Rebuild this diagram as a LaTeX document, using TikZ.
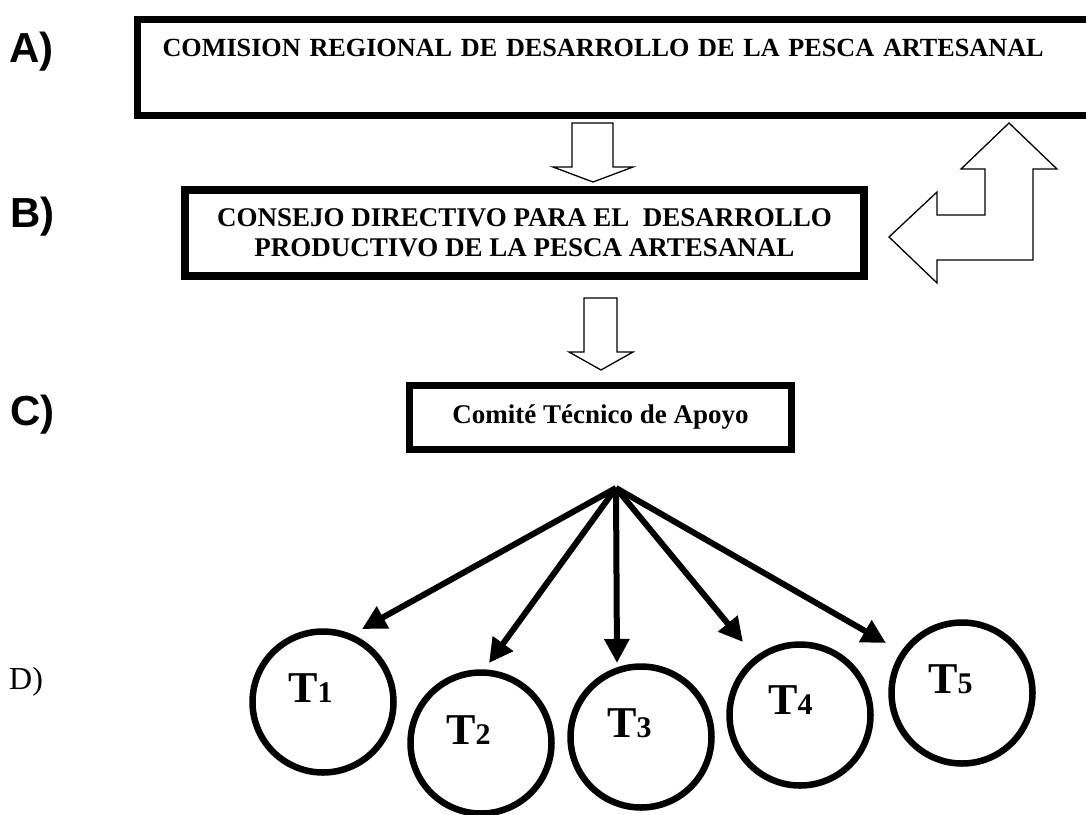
\documentclass[tikz,border=0pt]{standalone}
\usepackage{fontspec}
\setmainfont{Liberation Serif}
\setsansfont{Liberation Sans}
\usetikzlibrary{arrows.meta}

\tikzset{
  caja/.style={draw, line width=7pt, font=\bfseries\fontsize{27}{30}\selectfont, align=center, inner sep=0pt},
  tema/.style={circle, draw, line width=6.5pt, minimum size=141pt, inner sep=0pt},
  hueca/.style={draw, line width=1.3pt, fill=white, line join=miter},
  flecha/.style={line width=6pt, -{Triangle[length=24pt,width=24pt]}},
  letra/.style={font=\sffamily\bfseries\fontsize{42}{42}\selectfont, inner sep=0pt},
  tnombre/.style={font=\bfseries\fontsize{44}{44}\selectfont, inner sep=0pt}
}
\newcommand{\tnum}[2]{#1{\fontsize{30}{30}\selectfont #2}}

\begin{document}
\begin{tikzpicture}[x=1pt,y=-1pt]
  \useasboundingbox (0,0) rectangle (1086,814);
  \clip (0,0) rectangle (1086,814);

  \node[letra, anchor=base west] (la) at (9,62) {A)};
  \node[letra, anchor=base west] (lb) at (10,227) {B)};
  \node[letra, anchor=base west] (lc) at (10,425) {C)};
  \node[font=\fontsize{32}{32}\selectfont, inner sep=0pt, anchor=base west] (ld) at (9,689) {D)};

  \node[caja, font=\bfseries\fontsize{26.2}{30}\selectfont, anchor=north west, inner xsep=25.5pt,
        text height=37.5pt, text depth=58.5pt, text width=940pt, align=left] (comision) at (133.5,15.5)
        {COMISION REGIONAL DE DESARROLLO DE LA PESCA ARTESANAL};

  \node[caja, line width=8pt, minimum width=679pt, minimum height=86pt] (consejo) at (524.5,233)
        {CONSEJO DIRECTIVO PARA EL\ \ DESARROLLO\\PRODUCTIVO DE LA PESCA ARTESANAL};

  \node[caja, minimum width=382pt, minimum height=64pt] (comite) at (600.5,417.5)
        {Comité Técnico de Apoyo};

  \draw[hueca] (572,123) -- (613,123) -- (613,167) -- (633,167) -- (593,182) -- (553,167) -- (572,167) -- cycle;
  \draw[hueca] (584,298) -- (617,298) -- (617,352) -- (633,352) -- (601,370) -- (569,352) -- (584,352) -- cycle;

  \draw[hueca] (1009,123) -- (1057,169) -- (1033,169) -- (1033,260) -- (937,260) -- (937,283)
    -- (889,237) -- (937,192) -- (937,215) -- (985,215) -- (985,169) -- (961,169) -- cycle;

  \node[tema] (t1) at (323,702) {};
  \node[tema] (t2) at (481,743) {};
  \node[tema] (t3) at (641,737) {};
  \node[tema] (t4) at (800,715) {};
  \node[tema] (t5) at (962,693) {};

  \node[tnombre, anchor=base west] (n1) at (288,702) {\tnum{T}{1}};
  \node[tnombre, anchor=base west] (n2) at (446,744) {\tnum{T}{2}};
  \node[tnombre, anchor=base west] (n3) at (607,737) {\tnum{T}{3}};
  \node[tnombre, anchor=base west] (n4) at (768,714) {\tnum{T}{4}};
  \node[tnombre, anchor=base west] (n5) at (928,693) {\tnum{T}{5}};

  \coordinate (origen) at (616,488);
  \coordinate (p1) at (362,629);
  \coordinate (p2) at (489,663);
  \coordinate (p3) at (617,663);
  \coordinate (p4) at (743,642);
  \coordinate (p5) at (886,643);
  \foreach \i in {1,...,5}
    \draw[flecha] (origen) -- (p\i);

\end{tikzpicture}
\end{document}
